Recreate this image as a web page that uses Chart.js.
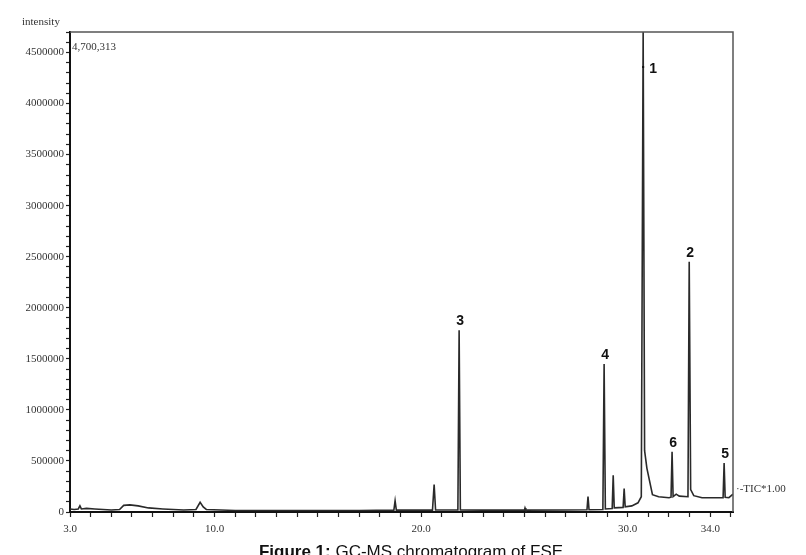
<!DOCTYPE html>
<html>
<head>
<meta charset="utf-8">
<script src="https://cdn.jsdelivr.net/npm/chart.js@4"></script>
<style>
  html, body { margin: 0; padding: 0; background: #fff; }
  #chromo { display: block; }
</style>
</head>
<body>
<canvas id="chromo" width="806" height="555"></canvas>
<script>
// retention time (min) and intensity
const times = [
	3.0, 3.2, 3.4, 3.48, 3.55, 3.8, 4.2, 4.6, 5.0, 5.4, 5.6, 5.9, 6.3, 6.8, 7.5, 8.5,
	9.1, 9.3, 9.45, 9.6, 11, 13, 15, 17,
	18.68, 18.74, 18.8, 20.55, 20.63, 20.7, 21.78, 21.84, 21.9, 23,
	25.0, 25.03, 25.07, 27, 28.03, 28.08, 28.13, 28.8, 28.86, 28.92,
	29.25, 29.3, 29.35, 29.78, 29.83, 29.88, 30.2, 30.5, 30.66, 30.75, 30.82,
	30.93, 31.2, 31.5, 32.0, 32.1, 32.15, 32.2, 32.35, 32.5, 32.92, 32.98, 33.05,
	33.2, 33.6, 34.2, 34.62, 34.67, 34.72, 34.9, 35.1
];
const intensity = [
	30000, 25000, 30000, 60000, 30000, 35000, 30000, 25000, 20000, 25000, 65000, 70000, 60000, 40000, 30000, 20000,
	25000, 95000, 50000, 25000, 15000, 15000, 15000, 15000,
	18000, 110000, 18000, 18000, 270000, 20000, 20000, 1780000, 20000, 18000,
	18000, 40000, 18000, 20000, 22000, 150000, 22000, 25000, 1450000, 30000,
	35000, 360000, 40000, 45000, 230000, 50000, 60000, 90000, 150000, 4700313, 600000,
	430000, 170000, 150000, 140000, 145000, 590000, 150000, 175000, 155000, 150000, 2450000, 220000,
	160000, 140000, 140000, 140000, 480000, 145000, 140000, 175000
];

// numbered peaks
const peakNames = ['1', '2', '3', '4', '5', '6'];
const peakTimes = [30.75, 32.98, 21.84, 28.86, 34.67, 32.15];
const peakHeights = [4700313, 2450000, 1780000, 1450000, 480000, 590000];

const xLabelled = [3, 10, 20, 30, 34];
const xMin = 3.0, xMax = 35.1;
const yMax = 4700313;

const serif = '"Liberation Serif", "DejaVu Serif", serif';

const extras = {
	id: 'extras',
	afterDraw(chart) {
		const ctx = chart.ctx;
		const a = chart.chartArea;
		const xs = chart.scales.x, ys = chart.scales.y;
		ctx.save();
		// top and right frame
		ctx.strokeStyle = '#555';
		ctx.lineWidth = 1.5;
		ctx.beginPath();
		ctx.moveTo(a.left, a.top);
		ctx.lineTo(a.right, a.top);
		ctx.lineTo(a.right, a.bottom);
		ctx.stroke();

		ctx.fillStyle = '#333';
		ctx.font = '11px ' + serif;
		ctx.textBaseline = 'middle';
		ctx.textAlign = 'left';
		ctx.fillText('intensity', 22, 22);
		ctx.fillText('4,700,313', 72, 47);
		ctx.fillText('\u00b7-TIC*1.00', 736, 489);

		// peak numbers
		ctx.fillStyle = '#111';
		ctx.font = 'bold 14px "Liberation Sans", "DejaVu Sans", sans-serif';
		ctx.textAlign = 'center';
		ctx.textBaseline = 'alphabetic';
		peakNames.forEach((n, i) => {
			const px = xs.getPixelForValue(peakTimes[i]);
			let py = ys.getPixelForValue(peakHeights[i]);
			if (peakHeights[i] >= yMax) {
				ctx.fillRect(px - 1, 66, 2, 2);
				ctx.fillText(n, px + 10, 73);
			} else {
				ctx.fillText(n, px + 1, py - 5);
			}
		});

		// caption
		ctx.fillStyle = '#111';
		ctx.textAlign = 'left';
		ctx.font = 'bold 17px "Liberation Sans", sans-serif';
		const part1 = 'Figure 1: ';
		const w1 = ctx.measureText(part1).width;
		ctx.font = '17px "Liberation Sans", sans-serif';
		const part2 = 'GC-MS chromatogram of FSE';
		const w2 = ctx.measureText(part2).width;
		const start = 411 - (w1 + w2) / 2;
		ctx.font = 'bold 17px "Liberation Sans", sans-serif';
		ctx.fillText(part1, start, 557);
		ctx.font = '17px "Liberation Sans", sans-serif';
		ctx.fillText(part2, start + w1, 557);
		ctx.restore();
	}
};

const config = {
	type: 'line',
	data: {
		datasets: [{
			data: times.map((t, i) => ({x: t, y: intensity[i]})),
			borderColor: '#2a2a2a',
			borderWidth: 1.6,
			pointRadius: 0,
			tension: 0,
			fill: false
		}]
	},
	options: {
		responsive: false,
		animation: false,
		layout: { padding: { left: 0, top: 32, right: 73, bottom: 0 } },
		plugins: { legend: { display: false }, tooltip: { enabled: false } },
		scales: {
			x: {
				type: 'linear',
				min: xMin,
				max: xMax,
				afterBuildTicks: s => {
					const t = [];
					for (let v = 3; v <= 35; v++) t.push({value: v});
					s.ticks = t;
				},
				afterFit: s => { s.height = 43; },
				ticks: {
					autoSkip: false,
					maxRotation: 0,
					padding: 6,
					color: '#333',
					font: { family: serif, size: 11 },
					callback: v => xLabelled.includes(v) ? v.toFixed(1) : ''
				},
				grid: { drawOnChartArea: false, tickLength: 5, color: '#222', tickWidth: 1.2 },
				border: { display: true, color: '#111', width: 2 }
			},
			y: {
				min: 0,
				max: yMax,
				afterBuildTicks: s => {
					const t = [];
					for (let v = 0; v <= yMax; v += 100000) t.push({value: v});
					s.ticks = t;
				},
				afterFit: s => { s.width = 70; },
				ticks: {
					autoSkip: false,
					padding: 2,
					color: '#333',
					font: { family: serif, size: 11 },
					callback: v => (v % 500000 === 0) ? String(v) : ''
				},
				grid: { drawOnChartArea: false, tickLength: 4, color: '#222', tickWidth: 1.2 },
				border: { display: true, color: '#111', width: 2 }
			}
		}
	},
	plugins: [extras]
};

new Chart(document.getElementById('chromo'), config);
</script>
</body>
</html>
